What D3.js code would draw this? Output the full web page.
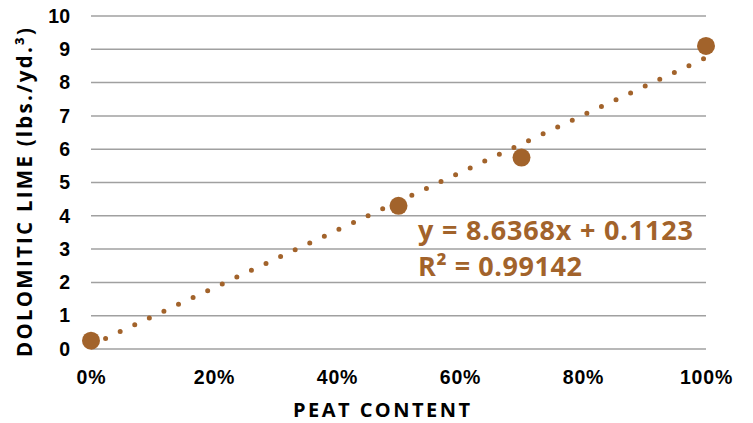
<!DOCTYPE html>
<html>
<head>
<meta charset="utf-8">
<script src="https://cdn.jsdelivr.net/npm/d3@7"></script>
<style>
  body { margin: 0; background: #fff; }
  svg { display: block; font-family: "Open Sans", "Noto Sans", sans-serif; font-weight: 700; }
</style>
</head>
<body>
<svg id="chart" width="753" height="423"></svg>
<script>
// data
const peat = [0, 0.5, 0.7, 1.0];
const lime = [0.25, 4.3, 5.75, 9.1];
const yTicks = [0, 1, 2, 3, 4, 5, 6, 7, 8, 9, 10];
const xTicks = [0, 0.2, 0.4, 0.6, 0.8, 1.0];
const slope = 8.6368, intercept = 0.1123;
const eqLines = ["y = 8.6368x + 0.1123", "R² = 0.99142"];

const brown = "#a2632b";
const svg = d3.select("#chart");

const x = d3.scaleLinear().domain([0, 1]).range([91, 706]);
const y = d3.scaleLinear().domain([0, 10]).range([349, 16]);

// gridlines
svg.append("g")
  .selectAll("line")
  .data(yTicks)
  .join("line")
  .attr("x1", x(0))
  .attr("x2", x(1))
  .attr("y1", d => y(d))
  .attr("y2", d => y(d))
  .attr("stroke", "#a0a0a0")
  .attr("stroke-width", 1.5);

// y axis labels
svg.append("g")
  .attr("transform", `translate(${x(0) - 21},0)`)
  .call(d3.axisLeft(y).tickValues(yTicks).tickSize(0).tickPadding(0))
  .call(g => g.select(".domain").remove())
  .selectAll("text")
  .attr("font-size", 19.5)
  .attr("font-family", null)
  .attr("fill", "#000");

// x axis labels
svg.append("g")
  .attr("transform", `translate(0,${y(0) + 21})`)
  .call(d3.axisBottom(x).tickValues(xTicks).tickFormat(d3.format(".0%")).tickSize(0).tickPadding(0))
  .call(g => g.select(".domain").remove())
  .selectAll("text")
  .attr("font-size", 19.5)
  .attr("letter-spacing", 0.8)
  .attr("font-family", null)
  .attr("fill", "#000");

// axis titles
svg.append("text")
  .attr("x", 293)
  .attr("y", 417)
  .attr("font-size", 20)
  .attr("textLength", 177)
  .attr("lengthAdjust", "spacing")
  .text("PEAT CONTENT");

svg.append("text")
  .attr("transform", "translate(32,357) rotate(-90)")
  .attr("font-size", 20.5)
  .attr("textLength", 329)
  .attr("lengthAdjust", "spacing")
  .text("DOLOMITIC LIME (lbs./yd.³)");

// dotted linear trendline
const trend = d3.line()
  .x(d => x(d))
  .y(d => y(slope * d + intercept));

svg.append("path")
  .datum([0, 1])
  .attr("d", trend)
  .attr("fill", "none")
  .attr("stroke", brown)
  .attr("stroke-width", 5)
  .attr("stroke-linecap", "round")
  .attr("stroke-dasharray", "0,16.1");

// points
svg.append("g")
  .selectAll("circle")
  .data(peat)
  .join("circle")
  .attr("cx", d => x(d))
  .attr("cy", (d, i) => y(lime[i]))
  .attr("r", 9)
  .attr("fill", brown);

// equation
svg.append("g")
  .selectAll("text")
  .data(eqLines)
  .join("text")
  .attr("x", 418)
  .attr("y", (d, i) => 240 + i * 35.5)
  .attr("font-size", 27)
  .attr("fill", brown)
  .attr("textLength", (d, i) => i ? 164 : 275)
  .attr("lengthAdjust", "spacing")
  .text(d => d);
</script>
</body>
</html>
